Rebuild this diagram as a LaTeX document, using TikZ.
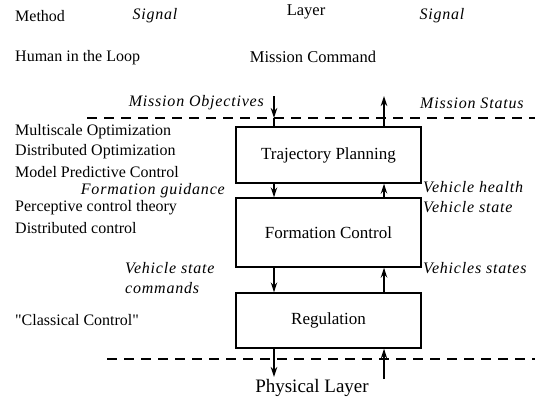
\documentclass[tikz,border=0pt]{standalone}
\usepackage{fontspec}
\setmainfont{Liberation Serif}
\newfontfamily\sigfamily[LetterSpace=5]{Liberation Serif}
\usetikzlibrary{arrows.meta}
\begin{document}
\begin{tikzpicture}[x=1pt,y=-1pt,
  txt/.style={inner sep=0pt,font=\fontsize{16}{19}\selectfont},
  itx/.style={inner sep=0pt,font=\sigfamily\fontsize{16}{19}\selectfont\itshape},
  big/.style={inner sep=0pt,font=\fontsize{16.5}{20}\selectfont},
  layerbox/.style={draw,line width=1.4pt,minimum width=185pt,font=\fontsize{17}{20}\selectfont,inner sep=0pt},
  sep/.style={dashed,dash pattern=on 10pt off 7pt,line width=1.2pt},
  arr/.style={line width=1.3pt,-{Stealth[length=10pt,width=6.5pt]}}]
\useasboundingbox (0,0) rectangle (535,399);
% headers
\node[txt,anchor=west] (method) at (15,16) {Method};
\node[itx] (sigl) at (155,16) {Signal};
\node[big] (layer) at (306,12) {Layer};
\node[itx] (sigr) at (442,16) {Signal};
\node[txt,anchor=west] (human) at (15,58) {Human in the Loop};
\node[big] (mc) at (313,57) {Mission Command};
\node[itx,anchor=east] (mobj) at (264,103) {Mission Objectives};
\node[itx,anchor=west] (mstat) at (420,103) {Mission Status};
% left methods
\node[txt,anchor=west] (m1) at (15,132) {Multiscale Optimization};
\node[txt,anchor=west] (m2) at (15,152) {Distributed Optimization};
\node[txt,anchor=west] (m3) at (15,172) {Model Predictive Control};
\node[itx,anchor=east] (fg) at (225,191) {Formation guidance};
\node[txt,anchor=west] (m4) at (15,208) {Perceptive control theory};
\node[txt,anchor=west] (m5) at (15,228) {Distributed control};
\node[itx,anchor=west] (vs1) at (125,268) {Vehicle state};
\node[itx,anchor=west] (vs2) at (125,288) {commands};
\node[txt,anchor=west] (m6) at (15,320) {\textquotedbl Classical Control\textquotedbl};
% right signals
\node[itx,anchor=west] (vh) at (423,187) {Vehicle health};
\node[itx,anchor=west] (vst) at (423,207) {Vehicle state};
\node[itx,anchor=west] (vss) at (423,268) {Vehicles states};
% boxes
\node[layerbox,minimum height=56pt] (tp) at (328.5,155) {Trajectory Planning};
\node[layerbox,minimum height=69pt] (fc) at (328.5,232.5) {Formation Control};
\node[layerbox,minimum height=55pt] (reg) at (328.5,320.5) {Regulation};
\node[inner sep=0pt,font=\fontsize{19}{22}\selectfont] (phys) at (312,388) {Physical Layer};
% separators
\coordinate (s1a) at (87,118); \coordinate (s1b) at (535,118);
\coordinate (s2a) at (107,359); \coordinate (s2b) at (535,359);
\draw[sep] (s1a) -- (s1b);
\draw[sep] (s2a) -- (s2b);
% arrow columns
\coordinate (dn) at (274,0);
\coordinate (up) at (384,0);
\coordinate (topd) at (274,96);
\coordinate (topu) at (384,96);
\coordinate (botd) at (274,377);
\coordinate (botu) at (384,379);
\draw[arr] (topd) -- (s1a -| dn);
\draw[line width=1.3pt] (s1a -| dn) -- (tp.north -| dn);
\draw[arr] (tp.north -| up) -- (topu);
\draw[arr] (tp.south -| dn) -- (fc.north -| dn);
\draw[arr] (fc.north -| up) -- (tp.south -| up);
\draw[arr] (fc.south -| dn) -- (reg.north -| dn);
\draw[arr] (reg.north -| up) -- (fc.south -| up);
\draw[arr] (reg.south -| dn) -- (botd);
\draw[arr] (botu) -- (reg.south -| up);
\end{tikzpicture}
\end{document}
